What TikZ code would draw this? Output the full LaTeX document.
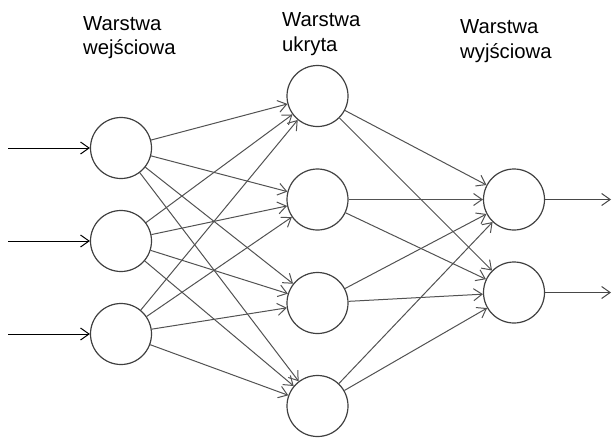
\documentclass[tikz,border=0pt]{standalone}
\usepackage{fontspec}
\setmainfont{Liberation Sans}
\usetikzlibrary{arrows.meta}
\begin{document}
\begin{tikzpicture}[x=1pt,y=-1pt,
  neuron/.style={circle, draw=black!75, line width=1.2pt, minimum size=61pt, inner sep=0pt},
  conn/.style={draw=black!68, line width=1pt, -{Straight Barb[length=8.5pt,width=12pt,line width=1pt]}},
  io/.style={draw=black, line width=1pt, -{Straight Barb[length=8.5pt,width=12pt,line width=1pt]}},
  lbl/.style={anchor=north west, inner sep=0pt, align=left, font=\fontsize{20.3}{24.5}\selectfont}]
\useasboundingbox (0,0) rectangle (612,437);

% labels
\node[lbl] (t1) at (83,16) {Warstwa\\wejściowa};
\node[lbl] (t2) at (282,12.5) {Warstwa\\ukryta};
\node[lbl] (t3) at (460,19.5) {Warstwa\\wyjściowa};

% neurons
\node[neuron] (i1) at (121,148) {};
\node[neuron] (i2) at (121,241) {};
\node[neuron] (i3) at (121,334) {};
\node[neuron] (h1) at (317.5,96) {};
\node[neuron] (h2) at (317.5,199.5) {};
\node[neuron] (h3) at (317.5,303) {};
\node[neuron] (h4) at (317.5,406) {};
\node[neuron] (o1) at (514,199.5) {};
\node[neuron] (o2) at (514,292.5) {};

% inputs / outputs
\coordinate (s1) at (8,148);
\coordinate (s2) at (8,241);
\coordinate (s3) at (8,334);
\coordinate (e1) at (611,199.5);
\coordinate (e2) at (611,292.5);
\draw[io] (s1) -- (i1);
\draw[io] (s2) -- (i2);
\draw[io] (s3) -- (i3);
\draw[io, draw=black!72] (o1) -- (e1);
\draw[io, draw=black!72] (o2) -- (e2);

% connections
\foreach \a in {i1,i2,i3}
  \foreach \b in {h1,h2,h3,h4}
    \draw[conn] (\a) -- (\b);
\foreach \a in {h1,h2,h3,h4}
  \foreach \b in {o1,o2}
    \draw[conn] (\a) -- (\b);
\end{tikzpicture}
\end{document}
